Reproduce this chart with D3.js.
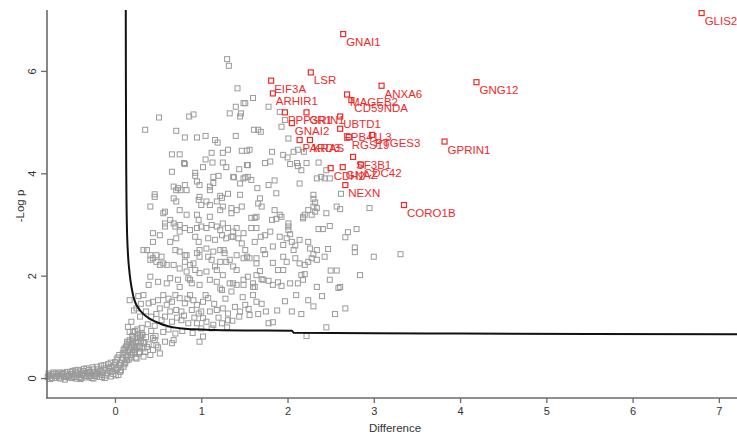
<!DOCTYPE html>
<html><head><meta charset="utf-8">
<script src="https://cdn.jsdelivr.net/npm/d3@7"></script>
<style>html,body{margin:0;padding:0;background:#fff;}svg{display:block;}</style>
</head><body>
<script>
const xTicks = [0,1,2,3,4,5,6,7];
const yTicks = [0,2,4,6];
const xLabel = "Difference";
const yLabel = "-Log p";

// significance threshold curve
const curveX = [0.125,0.128,0.133,0.145,0.16,0.18,0.20,0.22,0.25,0.29,0.35,0.42,0.50,0.60,0.72,0.88,1.10,1.50,2.05,2.07,3.0,4.0,5.5,7.25];
const curveY = [7.25,5.0,3.5,2.6,2.2,1.9,1.70,1.55,1.42,1.32,1.22,1.14,1.08,1.02,0.98,0.955,0.94,0.93,0.925,0.885,0.875,0.87,0.862,0.855];

// labelled significant proteins
const redNames = ["GNAI1","GLIS2","LSR","EIF3A","ARHIR1","ANXA6","GNG12","MAGEB2","CD59NDA","PPP3R1","GRIN1","GNAI2","UBTD1","EPB41L3","PARD3","KRAS","RGS19","PTGES3","GPRIN1","SF3B1","CDC42","CDH2","GNAZ","NEXN","CORO1B"];
const redX = [2.645,6.80,2.27,1.81,1.83,3.09,4.19,2.69,2.74,1.97,2.22,2.05,2.61,2.61,2.14,2.26,2.71,2.98,3.82,2.76,2.85,2.50,2.64,2.67,3.35];
const redY = [6.72,7.13,5.97,5.81,5.56,5.71,5.78,5.54,5.43,5.19,5.19,4.98,5.11,4.87,4.65,4.65,4.71,4.75,4.62,4.32,4.17,4.10,4.12,3.77,3.38];

// other proteins (gray)
const grayPts = [
[1.30,6.23],[1.32,6.10],[1.42,5.66],[1.49,5.37],[1.40,5.30],[1.46,5.17],[1.33,5.17],[1.45,5.11],[0.51,5.09],[0.86,5.11],[0.91,5.15],[0.35,4.85],[0.71,4.83],[0.81,4.70],[0.95,4.70],[1.05,4.73],[1.16,4.65],[1.19,4.60],[1.40,4.73],[0.66,4.37],[0.75,4.37],[1.12,4.40],[1.25,4.40],[1.31,4.46],[1.47,4.44],[1.53,4.44],[0.81,4.18],[1.05,4.27],[1.13,4.21],[1.25,4.21],[1.02,4.12],[1.29,4.12],[1.44,4.08],[1.53,4.16],[0.66,4.03],[0.93,4.01],[1.14,3.93],[1.20,3.95],[1.38,3.92],[1.51,3.92],[0.93,3.95],[0.68,3.74],[0.73,3.71],[0.81,3.77],[0.95,3.84],[0.98,3.77],[1.10,3.74],[1.45,3.80],[0.46,3.59],[0.71,3.67],[0.76,3.67],[0.83,3.67],[0.98,3.54],[1.10,3.67],[1.22,3.56],[1.31,3.60],[1.45,3.58],[1.14,3.81],
[1.60,5.47],[1.78,5.30],[1.91,5.20],[1.97,5.04],[1.61,4.85],[1.66,4.85],[1.69,4.81],[2.01,4.68],[1.51,5.37],[1.56,4.46],[1.82,4.42],[1.95,4.36],[2.00,4.31],[2.07,4.42],[2.12,4.46],[2.19,4.42],[2.11,4.20],[2.12,4.14],[2.22,4.20],[2.36,4.21],[1.54,4.16],[1.74,4.20],[1.80,4.23],[2.16,4.06],[2.45,4.06],[1.54,3.93],[1.58,3.87],[1.65,3.71],[1.78,3.77],[1.85,3.86],[1.87,3.61],[2.30,3.58],[2.34,3.90],[2.39,3.93],[2.43,3.90],[2.62,3.60],
[1.93,4.91],[2.03,4.18],[2.49,3.90],[2.14,3.80],[2.57,3.35],[2.95,3.32],[2.45,3.22],[2.32,3.25],[2.28,3.19],[1.91,3.19],[1.85,3.28],[1.70,3.35],
[1.68,3.51],[1.66,3.41],[2.30,3.50],[2.32,3.43],[2.61,3.30],[2.24,3.28],[2.34,3.32],[2.18,3.12],[2.20,3.19],[1.93,3.15],[1.87,3.11],[1.82,3.09],[1.58,3.13],[1.62,3.13],[2.01,3.02],[2.01,2.96],[2.49,2.97],[2.36,2.91],[2.41,2.91],[2.80,2.91],[2.70,2.85],[2.67,2.75],[1.58,2.93],[1.64,2.93],[1.80,2.86],[1.74,2.79],[1.69,2.76],[1.62,2.66],[2.03,2.81],[1.99,2.73],[1.95,2.60],[2.05,2.66],[2.09,2.59],[2.14,2.70],[2.24,2.66],[2.26,2.53],[2.34,2.50],[2.47,2.52],[2.43,2.37],[2.30,2.42],[2.28,2.34],[2.34,2.31],[2.24,2.27],[2.20,2.21],[2.78,2.55],[2.78,2.46],[3.00,2.37],[3.31,2.42],[2.09,2.34],[1.99,2.27],[1.83,2.25],[1.64,2.34],[1.56,2.34],[1.74,2.42],[1.51,2.50],[1.89,2.11],[1.95,2.11],[1.68,2.09],[1.64,2.01],[1.70,1.93],[1.78,1.90],[1.89,1.87],[1.93,1.80],[2.12,1.85],[2.16,2.01],[2.20,2.03],[2.50,2.10],[2.57,2.10],[2.84,2.01],[1.60,1.85],[1.54,1.98],[1.62,1.78],[2.59,1.76],[1.60,1.62],[1.64,1.49],[1.97,1.50],[2.24,1.52],[2.67,1.36],[1.66,1.25],[1.56,1.23],[2.16,1.25],[1.78,1.07],[1.83,1.09],[2.45,0.99],[2.22,0.82],
[0.46,3.54],[0.68,3.51],[0.71,3.45],[0.75,3.28],[0.97,3.48],[1.00,3.38],[1.06,3.45],[1.10,3.38],[1.18,3.45],[1.24,3.52],[1.25,3.35],[1.22,3.28],[1.35,3.32],[1.41,3.28],[1.47,3.35],[0.41,3.35],[0.58,3.25],[0.64,3.09],[0.58,2.96],[0.70,2.96],[0.75,2.99],[0.81,2.93],[0.87,2.89],[0.95,2.93],[1.00,2.96],[1.06,2.93],[1.12,2.99],[1.18,2.96],[1.25,3.02],[1.31,2.93],[1.37,2.86],[1.41,2.93],[0.95,3.19],[0.97,3.09],[1.10,3.15],[0.83,3.19],[0.52,2.79],[0.44,2.66],[0.64,2.66],[0.71,2.73],[0.93,2.76],[0.97,2.66],[1.08,2.73],[1.16,2.70],[1.24,2.79],[1.29,2.73],[1.35,2.76],[1.43,2.73],[1.47,2.63],
[0.33,2.50],[0.41,2.40],[0.44,2.34],[0.48,2.27],[0.54,2.37],[0.52,2.21],[0.60,2.21],[0.68,2.21],[0.75,2.47],[0.81,2.27],[0.87,2.21],[0.83,2.40],[0.95,2.44],[0.98,2.37],[1.06,2.53],[1.14,2.47],[1.12,2.31],[1.22,2.50],[1.27,2.44],[1.22,2.27],[1.29,2.27],[1.41,2.40],[1.37,2.18],[1.41,2.11],[1.49,2.34],[0.75,2.14],[0.83,2.08],[0.93,2.11],[0.98,2.05],[1.06,2.08],[1.18,2.11],[1.25,2.01],
[0.39,1.82],[0.50,1.88],[0.60,1.85],[0.64,1.95],[0.73,1.92],[0.85,1.95],[0.89,1.85],[0.98,1.82],[1.10,1.92],[1.18,1.88],[1.24,1.72],[1.33,1.85],[1.35,1.69],[1.41,1.82],[1.49,1.82],[0.33,1.62],[0.39,1.46],[0.44,1.49],[0.50,1.52],[0.56,1.62],[0.52,1.36],[0.60,1.43],[0.66,1.49],[0.70,1.62],[0.75,1.56],[0.81,1.46],[0.87,1.62],[0.91,1.52],[0.95,1.43],[1.02,1.49],[1.08,1.56],[1.10,1.30],[1.18,1.33],[1.25,1.36],[1.31,1.26],[1.39,1.39],[1.45,1.30],[1.51,1.43],[0.64,1.30],[0.71,1.33],[0.77,1.30],[0.89,1.33],[0.97,1.26],[1.02,1.17],[0.54,1.13],[0.66,1.10],[0.77,1.13],[0.85,1.07],[0.95,1.07],[1.06,1.10],[1.14,1.04],[1.24,1.07],[1.31,1.13],
[0.98,0.71],[0.56,0.90],[0.58,0.71],[0.68,0.74],[0.44,0.78],[0.31,0.87],[0.25,0.78],[0.14,0.71],[0.17,0.90],[1.02,0.81],[1.00,0.97],
[0.17,1.52],[0.25,1.36],[0.19,1.10],[0.29,1.20],[0.15,1.00],[0.21,0.90],[0.25,0.71],[0.29,0.81],[0.33,0.68],[0.37,0.61],[0.46,0.74],[0.48,0.64],[0.41,0.45],[0.52,0.48],[0.25,0.38],[0.33,0.42],[0.66,0.68],[0.70,0.87],[0.23,0.51],[0.29,0.51],[0.35,0.51],
[0.80,4.20],[1.37,3.93],[1.49,3.90],[1.35,3.22],[1.64,3.15],[0.44,2.83],[0.56,3.22],[0.58,3.02],[0.68,3.02],[0.75,2.86],[1.22,2.89],[1.37,2.76],[1.49,2.83],[0.37,2.50],[0.41,2.31],[0.48,2.40],[0.56,2.24],[0.70,2.50],[0.81,2.40],[0.91,2.24],[0.98,2.50],[1.08,2.37],[1.16,2.18],[1.26,2.50],[1.33,2.31],[1.53,2.37],[1.64,2.24],[1.72,2.50],[1.83,2.57],[1.95,2.37],[2.07,2.50],[2.14,2.24],[1.91,2.76],[2.01,2.89],[2.18,3.15],[2.30,3.35],[0.41,1.98],[0.75,1.78],[0.87,1.92],[1.22,1.75],[1.37,1.85],[1.49,1.92],[1.60,1.78],[1.72,1.92],[1.83,1.82],[2.03,1.85],[2.18,1.92],[2.34,1.78],[2.49,1.92],[2.61,1.78],
[0.36,1.30],[0.42,1.20],[0.48,1.25],[0.58,1.20],[0.62,1.55],[0.72,1.18],[0.80,1.22],[0.84,1.55],[0.92,1.18],[1.00,1.30],[1.05,1.62],[1.15,1.45],[1.20,1.18],[1.28,1.55],[1.36,1.12],[1.44,1.20],[1.48,1.58],[1.55,1.35],[1.70,1.45],[1.75,1.30],[1.88,1.32],[2.05,1.30],[2.10,1.62],[2.30,1.40],[2.40,1.60],[2.55,1.25],[0.27,1.60],[0.30,1.45],[0.22,1.32],[0.38,1.05],[0.46,1.02],[0.62,0.95],[0.78,0.92],[0.90,0.88],[1.12,0.97],[1.30,0.99],
[-0.78,0.02],[-0.76,0.06],[-0.73,0.00],[-0.70,0.04],[-0.68,0.09],[-0.65,0.01],[-0.62,0.05],[-0.60,0.10],[-0.57,0.02],[-0.55,0.07],[-0.52,0.12],[-0.50,0.00],[-0.48,0.05],[-0.46,0.15],[-0.44,0.09],[-0.42,0.02],[-0.40,0.13],[-0.38,0.06],[-0.36,0.18],[-0.34,0.01],[-0.32,0.10],[-0.30,0.16],[-0.28,0.04],[-0.26,0.21],[-0.24,0.12],[-0.22,0.07],[-0.20,0.17],[-0.18,0.02],[-0.16,0.24],[-0.14,0.11],[-0.12,0.19],[-0.10,0.05],[-0.08,0.27],[-0.06,0.14],[-0.04,0.22],[-0.02,0.08],[0.00,0.31],[0.02,0.17],[0.03,0.40],[0.05,0.25],[0.06,0.12],[0.08,0.35],[0.09,0.48],[0.10,0.22],[0.11,0.58],[0.12,0.30],[0.13,0.42],[0.14,0.66],[0.15,0.52],[0.16,0.36],[0.17,0.74],[0.18,0.60],[0.19,0.45],[0.20,0.82],[0.21,0.68],[0.22,0.55],[0.23,0.92],[0.24,0.40],[0.26,0.62],[0.27,0.85],[0.28,0.48],[0.30,0.72],[0.31,0.98],[0.33,0.58],[0.36,0.80],[0.39,0.66],[0.42,0.92],[0.44,0.55],[0.47,0.82],[0.50,0.60],
[-0.75,-0.02],[-0.58,-0.03],[-0.40,-0.02],[-0.25,-0.01],[-0.12,0.00],[-0.66,0.07],[-0.53,0.04],[-0.37,0.09],[-0.21,0.11],[-0.05,0.03],[0.04,0.06],[-0.71,0.11],[-0.45,-0.01],[-0.30,0.03],[-0.15,0.06],[0.01,0.19],
[-0.77,0.09],[-0.74,0.04],[-0.72,0.08],[-0.69,0.00],[-0.67,0.04],[-0.64,0.11],[-0.63,-0.01],[-0.61,0.08],[-0.59,0.04],[-0.56,0.12],[-0.54,0.01],[-0.51,0.08],[-0.49,0.14],[-0.47,0.02],[-0.45,0.11],[-0.43,0.16],[-0.41,0.06],[-0.39,0.00],[-0.37,0.14],[-0.35,0.04],[-0.33,0.19],[-0.31,0.07],[-0.29,0.12],[-0.27,0.00],[-0.25,0.17],[-0.23,0.04],[-0.21,0.22],[-0.19,0.09],[-0.17,0.14],[-0.15,0.02],[-0.13,0.25],[-0.11,0.15],[-0.09,0.09],[-0.07,0.20],[-0.05,0.30],[-0.03,0.13],[-0.01,0.25],[0.01,0.05],[0.02,0.36],[0.04,0.20],[0.05,0.45],[0.07,0.29],[0.07,0.15],[0.09,0.40],[0.10,0.55],[0.11,0.27],[0.12,0.50],[0.13,0.62],[0.14,0.35],[0.15,0.45],[0.16,0.70],[0.17,0.55],[0.18,0.40],[0.19,0.65],[0.20,0.50],[0.21,0.77],[0.22,0.62],[0.23,0.48],[0.24,0.70],[0.25,0.58],[0.26,0.95],[0.27,0.70],[0.29,0.62],[0.32,0.84],[0.34,0.70]
];

const W = 737, H = 442;
const svg = d3.select("body").append("svg").attr("width", W).attr("height", H)
  .style("font-family", "Liberation Sans, Arial, sans-serif");

const x = d3.scaleLinear().domain([-0.788, 7.21]).range([47, 737]);
const y = d3.scaleLinear().domain([-0.39, 7.19]).range([398, 10]);

svg.append("defs").append("clipPath").attr("id","plot")
  .append("rect").attr("x",47).attr("y",10).attr("width",690).attr("height",388);

const axisCol = "#6a6a6a";

// gray points
const sq = 5;
svg.append("g").selectAll("rect").data(grayPts).join("rect")
  .attr("x", d => x(d[0]) - sq/2).attr("y", d => y(d[1]) - sq/2)
  .attr("width", sq).attr("height", sq)
  .attr("fill", "none").attr("stroke", "#9a9a9a").attr("stroke-width", 1);

// threshold curve
const curve = curveX.map((v,i) => [v, curveY[i]]);
svg.append("path").datum(curve)
  .attr("clip-path","url(#plot)")
  .attr("d", d3.line().x(d => x(d[0])).y(d => y(d[1])).curve(d3.curveMonotoneY))
  .attr("fill","none").attr("stroke","#111").attr("stroke-width",2);

// red labelled points
const red = "#ee2a2a";
const reds = redNames.map((n,i) => ({n, x: redX[i], y: redY[i]}));
const rg = svg.append("g");
rg.selectAll("rect").data(reds).join("rect")
  .attr("x", d => x(d.x) - sq/2).attr("y", d => y(d.y) - sq/2)
  .attr("width", sq).attr("height", sq)
  .attr("fill","none").attr("stroke", red).attr("stroke-width", 1.2);
rg.selectAll("text").data(reds).join("text")
  .attr("x", d => x(d.x) + 3).attr("y", d => y(d.y) + 12)
  .attr("fill", red).attr("font-size", 11.5).text(d => d.n);

// axes
const xa = svg.append("g").attr("transform","translate(0,398)")
  .call(d3.axisBottom(x).tickValues(xTicks).tickSize(5).tickPadding(4).tickFormat(d3.format("d")));
const ya = svg.append("g").attr("transform","translate(47,0)")
  .call(d3.axisLeft(y).tickValues(yTicks).tickSize(6).tickPadding(3).tickFormat(d3.format("d")));
[xa, ya].forEach(a => {
  a.select(".domain").remove();
  a.selectAll("line").attr("stroke", axisCol).attr("stroke-width", 1.3);
  a.selectAll("text").attr("fill", "#333").attr("font-size", 11).attr("font-family","Liberation Sans, Arial, sans-serif");
});
ya.selectAll(".tick text")
  .attr("x", 0).attr("y", 0).attr("dy", null)
  .attr("text-anchor","middle")
  .attr("transform", "translate(-11,0) rotate(-90)");

// box lines (L-shaped)
svg.append("line").attr("x1",47).attr("x2",47).attr("y1",10).attr("y2",398.5)
  .attr("stroke",axisCol).attr("stroke-width",1.6);
svg.append("line").attr("x1",46.2).attr("x2",737).attr("y1",398).attr("y2",398)
  .attr("stroke",axisCol).attr("stroke-width",1.6);

// axis titles
svg.append("text").attr("x", 395).attr("y", 432).attr("text-anchor","middle")
  .attr("font-size", 11.5).attr("fill","#333").text(xLabel);
svg.append("text").attr("transform","translate(24,206) rotate(-90)").attr("text-anchor","middle")
  .attr("font-size", 11.5).attr("fill","#333").text(yLabel);
</script>
</body></html>
